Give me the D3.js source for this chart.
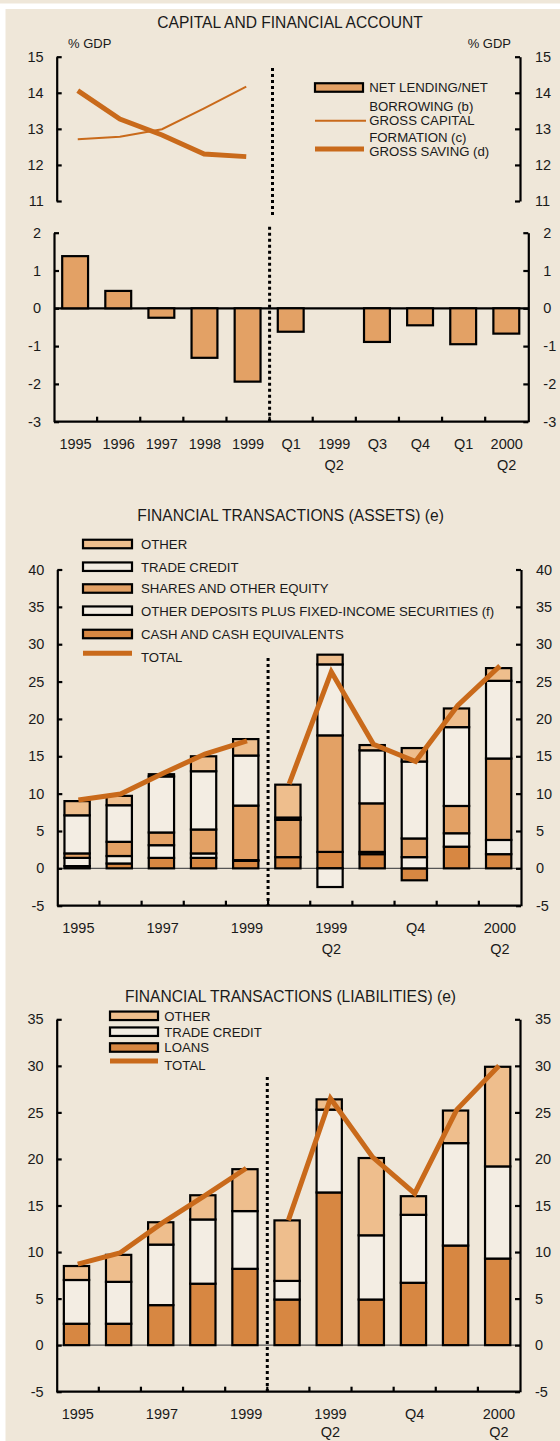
<!DOCTYPE html>
<html><head><meta charset="utf-8">
<script src="https://cdn.jsdelivr.net/npm/d3@7"></script>
<style>
html,body{margin:0;padding:0;background:#fff;}
svg{display:block;font-family:"Liberation Sans",Arial,Helvetica,sans-serif;}
</style></head><body>
<svg id="c" width="560" height="1441"></svg>
<script>
// ---------- DATA ----------
const categories = ["1995","1996","1997","1998","1999","1999 Q1","1999 Q2","1999 Q3","1999 Q4","2000 Q1","2000 Q2"];
const annualCats = ["1995","1996","1997","1998","1999"];
const quarterCats = ["1999 Q1","1999 Q2","1999 Q3","1999 Q4","2000 Q1","2000 Q2"];
const topTickLabels = [["1995"],["1996"],["1997"],["1998"],["1999"],["Q1"],["1999","Q2"],["Q3"],["Q4"],["Q1"],["2000","Q2"]];
const lowerTickLabels = [["1995"],[],["1997"],[],["1999"],[],["1999","Q2"],[],["Q4"],[],["2000","Q2"]];

const grossCapitalFormation = [12.71,12.78,12.99,13.57,14.17];
const grossSaving = [14.06,13.27,12.83,12.30,12.23];
const netLending = [1.38,0.46,-0.25,-1.31,-1.94,-0.62,0,-0.89,-0.45,-0.95,-0.67];

const assetsCash = [0.3,0.65,1.4,1.4,1.0,1.5,2.2,1.9,-1.6,2.9,1.9];
const assetsOtherDeposits = [1.1,1.0,1.7,0.6,0.1,0.0,-2.5,0.3,1.5,1.8,1.9];
const assetsShares = [0.6,1.9,1.7,3.2,7.3,5.0,15.6,6.5,2.5,3.65,10.9];
const assetsTradeCredit = [5.1,4.9,7.5,7.8,6.7,0.3,9.5,7.1,10.3,10.55,10.4];
const assetsOther = [1.9,1.25,0.3,2.0,2.2,4.4,1.3,0.7,1.8,2.5,1.7];
const assetsTotal = [9.15,9.95,12.7,15.3,17.05,11.3,26.3,16.6,14.3,21.8,27.1];

const liabLoans = [2.3,2.3,4.3,6.6,8.2,4.9,16.4,4.9,6.7,10.7,9.3];
const liabTradeCredit = [4.7,4.5,6.5,6.9,6.2,2.0,8.9,6.9,7.3,11.0,9.9];
const liabOther = [1.5,2.9,2.4,2.6,4.5,6.5,1.1,8.3,2.0,3.5,10.7];
const liabTotal = [8.7,9.9,13.1,16.0,19.0,13.4,26.5,20.2,16.3,25.3,30.0];

const topUpperTicks = [11,12,13,14,15];
const topLowerTicks = [-3,-2,-1,0,1,2];
const assetsTicks = [-5,0,5,10,15,20,25,30,35,40];
const liabTicks = [-5,0,5,10,15,20,25,30,35];

// ---------- STYLE ----------
const BG = "#EFE7D9", WHITE_SEG = "#F3EDE3", MED = "#E3A165", DARK = "#D78742", LIGHT = "#EEBE8D", LINE = "#C96A1B";
const TXT = "#1a1a1a", SW = 2.2;

const svg = d3.select("#c");
svg.append("rect").attr("x",0).attr("y",0).attr("width",560).attr("height",3.5).attr("fill",BG);
svg.append("rect").attr("x",5.5).attr("y",9).attr("width",554.5).attr("height",1432).attr("fill",BG);

const fmt = d => String(d);

function yAxes(g, y, xL, xR, ticks) {
  const l = g.append("g").attr("transform",`translate(${xL},0)`)
    .call(d3.axisLeft(y).tickValues(ticks).tickSizeInner(-5).tickSizeOuter(0).tickPadding(13).tickFormat(fmt));
  const r = g.append("g").attr("transform",`translate(${xR},0)`)
    .call(d3.axisRight(y).tickValues(ticks).tickSizeInner(-5).tickSizeOuter(0).tickPadding(15).tickFormat(fmt));
  [l,r].forEach(a => {
    a.select(".domain").attr("stroke","#000").attr("stroke-width",SW);
    a.selectAll(".tick line").attr("stroke","#000").attr("stroke-width",SW);
    a.selectAll(".tick text").attr("fill",TXT).style("font-size","14.5px");
  });
}
function xAxis(g, x, yB, labels, rowGap) {
  const [r0,r1] = x.range();
  g.append("line").attr("x1",r0).attr("x2",r1).attr("y1",yB).attr("y2",yB).attr("stroke","#000").attr("stroke-width",SW);
  categories.forEach((c,i) => {
    if (i>0) g.append("line").attr("x1",x(c)).attr("x2",x(c)).attr("y1",yB).attr("y2",yB-5).attr("stroke","#000").attr("stroke-width",SW);
    labels[i].forEach((t,j) => {
      g.append("text").attr("x",x(c)+x.bandwidth()/2).attr("y",yB+27+j*rowGap)
        .attr("text-anchor","middle").attr("fill",TXT).style("font-size","14.5px").text(t);
    });
  });
}
function dotted(g, xp, y1, y2) {
  g.append("line").attr("x1",xp).attr("x2",xp).attr("y1",y1).attr("y2",y2)
    .attr("stroke","#000").attr("stroke-width",3).attr("stroke-dasharray","3,3");
}
function title(g, t, xc, yb) {
  g.append("text").attr("x",xc).attr("y",yb).attr("text-anchor","middle").attr("fill",TXT)
    .style("font-size","15.6px").text(t);
}
function legendText(g, t, xp, yb) {
  g.append("text").attr("x",xp).attr("y",yb).attr("fill",TXT).style("font-size","13.2px").text(t);
}
function swatch(g, x0, yc, w, h, fill) {
  g.append("rect").attr("x",x0).attr("y",yc-h/2).attr("width",w).attr("height",h)
    .attr("fill",fill).attr("stroke","#000").attr("stroke-width",SW);
}

// ================= CHART 1 =================
const g1 = svg.append("g");
title(g1, "CAPITAL AND FINANCIAL ACCOUNT", 290, 28);
g1.append("text").attr("x",68).attr("y",47.5).attr("fill",TXT).style("font-size","13px").text("% GDP");
g1.append("text").attr("x",511).attr("y",47.5).attr("text-anchor","end").attr("fill",TXT).style("font-size","13px").text("% GDP");

// upper panel
const xU = d3.scaleBand().domain(categories).range([56.7,520]).padding(0);
const yU = d3.scaleLinear().domain([11,15]).range([201,56.7]);
yAxes(g1, yU, 56.7, 520, topUpperTicks);
dotted(g1, 272.5, 68, 215);
const lineU = d3.line().x((d,i)=>xU(annualCats[i])+xU.bandwidth()/2).y(d=>yU(d));
g1.append("path").datum(grossCapitalFormation).attr("d",lineU).attr("fill","none").attr("stroke",LINE).attr("stroke-width",2);
g1.append("path").datum(grossSaving).attr("d",lineU).attr("fill","none").attr("stroke",LINE).attr("stroke-width",5);

// legend chart 1
swatch(g1, 315, 87.5, 48, 8.5, MED);
legendText(g1, "NET LENDING/NET", 369.3, 92.3);
legendText(g1, "BORROWING (b)", 369.3, 110.7);
g1.append("line").attr("x1",315).attr("x2",366).attr("y1",120.7).attr("y2",120.7).attr("stroke",LINE).attr("stroke-width",2);
legendText(g1, "GROSS CAPITAL", 369.3, 124.5);
legendText(g1, "FORMATION (c)", 369.3, 141.7);
g1.append("line").attr("x1",315).attr("x2",364).attr("y1",149).attr("y2",149).attr("stroke",LINE).attr("stroke-width",5);
legendText(g1, "GROSS SAVING (d)", 369.3, 156);

// lower panel
const xL = d3.scaleBand().domain(categories).range([54,528.3]).padding(0);
const yL = d3.scaleLinear().domain([-3,2]).range([421.7,232.7]);
g1.append("line").attr("x1",54).attr("x2",528.3).attr("y1",yL(0)).attr("y2",yL(0)).attr("stroke","#000").attr("stroke-width",SW);
g1.selectAll("rect.nl").data(netLending).join("rect").attr("class","nl")
  .attr("x",(d,i)=>xL(categories[i])+xL.bandwidth()*0.19)
  .attr("width",xL.bandwidth()*0.6)
  .attr("y",d=>yL(Math.max(0,d)))
  .attr("height",d=>Math.abs(yL(d)-yL(0)))
  .attr("fill",MED).attr("stroke","#000").attr("stroke-width",SW);
yAxes(g1, yL, 54, 528.3, topLowerTicks);
xAxis(g1, xL, 421.7, topTickLabels, 21.5);
dotted(g1, xL(categories[5]), 226.7, 421.7);

// ================= generic stacked chart =================
function stackedChart(cfg) {
  const g = svg.append("g");
  title(g, cfg.title, 290.5, cfg.titleY);
  const x = d3.scaleBand().domain(categories).range([cfg.xL, cfg.xR]).padding(0);
  const y = d3.scaleLinear().domain(cfg.domain).range(cfg.range);
  g.append("line").attr("x1",cfg.xL).attr("x2",cfg.xR).attr("y1",y(0)).attr("y2",y(0)).attr("stroke","#555").attr("stroke-width",1.3);
  const rows = categories.map((c,i)=>{
    const o = {cat:c};
    cfg.series.forEach(s=>{ o[s.key]=s.values[i]; });
    return o;
  });
  const stack = d3.stack().keys(cfg.series.map(s=>s.key)).offset(d3.stackOffsetDiverging);
  const layers = stack(rows);
  layers.forEach((layer,li)=>{
    g.selectAll(null).data(layer.filter(d=>d[1]!==d[0])).join("rect")
      .attr("x",d=>x(d.data.cat)+x.bandwidth()*0.17)
      .attr("width",x.bandwidth()*0.6)
      .attr("y",d=>y(Math.max(d[0],d[1])))
      .attr("height",d=>Math.abs(y(d[0])-y(d[1])))
      .attr("fill",cfg.series[li].color).attr("stroke","#000").attr("stroke-width",SW);
  });
  const ln = d3.line().x(d=>x(d.c)+x.bandwidth()/2).y(d=>y(d.v));
  const idx = c => categories.indexOf(c);
  [annualCats, quarterCats].forEach(cs=>{
    g.append("path").datum(cs.map(c=>({c, v:cfg.total[idx(c)]}))).attr("d",ln)
      .attr("fill","none").attr("stroke",LINE).attr("stroke-width",5);
  });
  yAxes(g, y, cfg.xL, cfg.xR, cfg.ticks);
  xAxis(g, x, cfg.range[0], lowerTickLabels, cfg.rowGap);
  dotted(g, x(categories[5]), cfg.dotTop, cfg.range[0]);
  cfg.legend.forEach(it=>{
    if (it.line) {
      g.append("line").attr("x1",cfg.swX).attr("x2",cfg.swX+cfg.swW).attr("y1",it.y).attr("y2",it.y).attr("stroke",LINE).attr("stroke-width",5);
      legendText(g, it.label, cfg.txX, it.y+9);
    } else {
      swatch(g, cfg.swX, it.y, cfg.swW, 8.5, it.color);
      legendText(g, it.label, cfg.txX, it.y+4.8);
    }
  });
  return g;
}

// ================= CHART 2 (assets) =================
stackedChart({
  title: "FINANCIAL TRANSACTIONS (ASSETS) (e)", titleY: 520.5,
  xL: 57.3, xR: 521, domain: [-5,40], range: [905.7,569.5], ticks: assetsTicks, rowGap: 21.5,
  series: [
    {key:"cash", values: assetsCash, color: DARK},
    {key:"dep", values: assetsOtherDeposits, color: WHITE_SEG},
    {key:"shares", values: assetsShares, color: MED},
    {key:"trade", values: assetsTradeCredit, color: WHITE_SEG},
    {key:"other", values: assetsOther, color: LIGHT}
  ],
  total: assetsTotal, dotTop: 658,
  swX: 83, swW: 49, txX: 141,
  legend: [
    {label:"OTHER", color: LIGHT, y: 544},
    {label:"TRADE CREDIT", color: WHITE_SEG, y: 566.7},
    {label:"SHARES AND OTHER EQUITY", color: MED, y: 588.5},
    {label:"OTHER DEPOSITS PLUS FIXED-INCOME SECURITIES (f)", color: WHITE_SEG, y: 610.7},
    {label:"CASH AND CASH EQUIVALENTS", color: DARK, y: 634},
    {label:"TOTAL", line: true, y: 653.3}
  ]
});

// ================= CHART 3 (liabilities) =================
stackedChart({
  title: "FINANCIAL TRANSACTIONS (LIABILITIES) (e)", titleY: 1001.5,
  xL: 56.7, xR: 520, domain: [-5,35], range: [1391.7,1019.3], ticks: liabTicks, rowGap: 18,
  series: [
    {key:"loans", values: liabLoans, color: DARK},
    {key:"trade", values: liabTradeCredit, color: WHITE_SEG},
    {key:"other", values: liabOther, color: LIGHT}
  ],
  total: liabTotal, dotTop: 1077,
  swX: 110, swW: 48, txX: 164.3,
  legend: [
    {label:"OTHER", color: LIGHT, y: 1015.8},
    {label:"TRADE CREDIT", color: WHITE_SEG, y: 1031.7},
    {label:"LOANS", color: DARK, y: 1047.5},
    {label:"TOTAL", line: true, y: 1061}
  ]
});
</script>
</body></html>
